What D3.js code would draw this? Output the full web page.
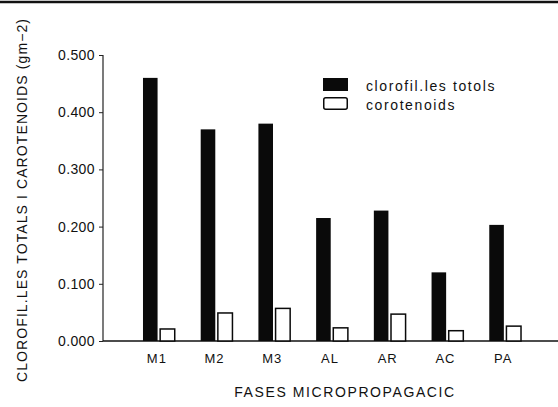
<!DOCTYPE html>
<html lang="ca">
<head>
<meta charset="UTF-8">
<title>Clorofil.les i carotenoids</title>
<script src="https://d3js.org/d3.v7.min.js"></script>
<style>
  body { margin: 0; background: #fff; }
  text { font-family: "Liberation Sans", Arial, sans-serif; fill: #111; }
</style>
</head>
<body>
<svg width="558" height="407"></svg>
<script>
// fases de micropropagacio
const phases = ['M1', 'M2', 'M3', 'AL', 'AR', 'AC', 'PA']
// clorofil.les totals (g m-2)
const chlorophyll = [0.46, 0.37, 0.38, 0.215, 0.228, 0.12, 0.203]
// carotenoids (g m-2)
const carotenoids = [0.021, 0.049, 0.057, 0.023, 0.047, 0.018, 0.026]
const yTicks = [0, 0.1, 0.2, 0.3, 0.4, 0.5]
const seriesNames = ['clorofil.les totols', 'corotenoids']

const rows = phases.map((p, i) => ({ phase: p, values: [chlorophyll[i], carotenoids[i]] }))

const svg = d3.select('svg')
const x0 = 103, y0 = 341

const x = d3.scaleBand().domain(phases).range([130, 534]).paddingInner(0.45).paddingOuter(0.225)
const xs = d3.scaleBand().domain([0, 1]).range([0, x.bandwidth()]).paddingInner(0.15)
const y = d3.scaleLinear().domain([0, 0.5]).range([y0, 55])

// scan edge on top
svg.append('line').attr('x1', 0).attr('x2', 558).attr('y1', 2).attr('y2', 2)
  .attr('stroke', '#111').attr('stroke-width', 2.5)

// y axis
const yAxis = svg.append('g').attr('transform', 'translate(' + x0 + ',0)')
  .call(d3.axisLeft(y).tickValues(yTicks).tickFormat(d3.format('.3f')).tickSize(4).tickPadding(4))
yAxis.select('.domain').attr('d', 'M0,' + y(0.5) + 'V' + y0).attr('stroke', '#222').attr('stroke-width', 1.2)
yAxis.selectAll('.tick line').attr('stroke', '#222')
yAxis.selectAll('.tick text').attr('font-size', 14).attr('fill', '#222')
  .attr('letter-spacing', 0.4)
  .attr('font-family', '"Liberation Sans", Arial, sans-serif')

// x axis line
svg.append('line').attr('x1', x0).attr('x2', 558).attr('y1', y0).attr('y2', y0)
  .attr('stroke', '#111').attr('stroke-width', 1.5)

// x labels
svg.append('g').selectAll('text').data(phases).enter().append('text')
  .attr('x', d => x(d) + x.bandwidth() / 2 - 2)
  .attr('y', 363)
  .attr('text-anchor', 'middle')
  .attr('font-size', 13)
  .attr('letter-spacing', 1)
  .text(d => d)

// bars
const groups = svg.append('g').selectAll('g').data(rows).enter().append('g')
  .attr('transform', d => 'translate(' + x(d.phase) + ',0)')
groups.selectAll('rect').data(d => d.values).enter().append('rect')
  .attr('x', (d, i) => xs(i))
  .attr('width', xs.bandwidth())
  .attr('y', d => y(d))
  .attr('height', d => y0 - y(d))
  .attr('fill', (d, i) => i === 0 ? '#0a0a0a' : '#fff')
  .attr('stroke', '#0a0a0a')
  .attr('stroke-width', (d, i) => i === 0 ? 0 : 1.5)

// legend
const legend = svg.append('g').attr('transform', 'translate(323,78)')
seriesNames.forEach((name, i) => {
  legend.append('rect')
    .attr('x', i === 0 ? 0 : 0.75).attr('y', i * 19 + (i === 0 ? 0 : 0.75))
    .attr('width', i === 0 ? 25 : 23.5).attr('height', i === 0 ? 13 : 11.5)
    .attr('rx', i === 0 ? 0 : 2)
    .attr('fill', i === 0 ? '#0a0a0a' : '#fff')
    .attr('stroke', '#0a0a0a').attr('stroke-width', i === 0 ? 0 : 1.5)
  legend.append('text')
    .attr('x', 43).attr('y', i * 19 + 13)
    .attr('font-size', 14).attr('letter-spacing', 1.6)
    .text(name)
})

// axis titles
svg.append('text')
  .attr('transform', 'translate(27,200) rotate(-90)')
  .attr('text-anchor', 'middle')
  .attr('font-size', 14)
  .attr('letter-spacing', 1.1)
  .text('CLOROFIL.LES TOTALS I CAROTENOIDS (gm−2)')

svg.append('text')
  .attr('x', 345).attr('y', 397)
  .attr('text-anchor', 'middle')
  .attr('font-size', 14)
  .attr('letter-spacing', 1.6)
  .text('FASES MICROPROPAGACIC')
</script>
</body>
</html>
